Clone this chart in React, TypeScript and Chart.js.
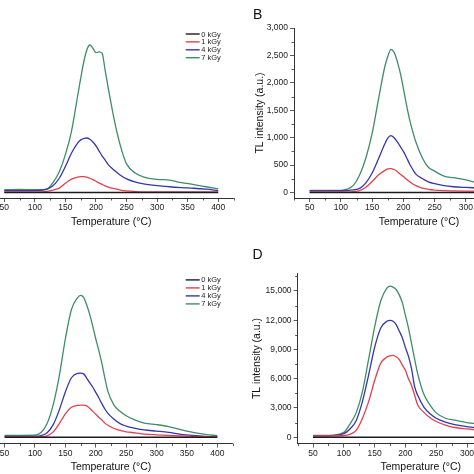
import React, { useEffect, useRef } from "react";
import { Chart, registerables } from "chart.js";

Chart.register(...registerables);

// ---------- data ----------
const TEMPS = [50, 75, 100, 110, 120, 130, 140, 150, 160, 170, 175, 180, 185, 190, 195, 200, 205, 210, 215, 220, 230, 240, 250, 265, 280, 300, 320, 340, 360, 380, 400];

const SERIES_LABELS = ["0 kGy", "1 kGy", "4 kGy", "7 kGy"];
const SERIES_COLORS = ["#1c1c1c", "#e2404c", "#3636b0", "#3f8c69"];

const X_TICKS = [50, 100, 150, 200, 250, 300, 350, 400];
const Y_TICKS_SMALL = [0, 500, 1000, 1500, 2000, 2500, 3000];
const Y_TICKS_LARGE = [0, 3000, 6000, 9000, 12000, 15000];

const ZERO = [0, 0, 0, 0, 0, 0, 0, 0, 0, 0, 0, 0, 0, 0, 0, 0, 0, 0, 0, 0, 0, 0, 0, 0, 0, 0, 0, 0, 0, 0, 0];

const A_RED = [10, 10, 10, 12, 20, 45, 80, 170, 245, 282, 290, 290, 280, 260, 235, 205, 175, 148, 122, 100, 70, 45, 30, 18, 12, 10, 10, 10, 10, 10, 10];
const A_BLUE = [36, 36, 36, 38, 60, 127, 260, 475, 720, 900, 960, 985, 994, 970, 920, 850, 760, 670, 590, 510, 405, 315, 249, 190, 155, 125, 105, 90, 78, 60, 36];
const A_GREEN = [50, 55, 50, 52, 65, 187, 380, 690, 1120, 1760, 2080, 2380, 2600, 2690, 2630, 2550, 2565, 2540, 2230, 1910, 1320, 850, 522, 350, 275, 240, 225, 180, 145, 105, 67];

const B_RED = [10, 10, 10, 12, 18, 35, 95, 200, 320, 400, 430, 436, 420, 385, 335, 290, 240, 195, 155, 125, 80, 58, 45, 35, 30, 26, 24, 20, 18, 15, 12];
const B_BLUE = [30, 30, 32, 38, 50, 75, 175, 355, 610, 880, 990, 1036, 1000, 930, 840, 750, 640, 520, 420, 335, 255, 195, 160, 125, 105, 92, 82, 70, 60, 50, 40];
const B_GREEN = [40, 40, 40, 60, 130, 320, 630, 1080, 1690, 2280, 2480, 2612, 2560, 2400, 2180, 1900, 1600, 1330, 1110, 920, 640, 460, 390, 300, 270, 230, 175, 150, 130, 115, 100];

const C_RED = [30, 30, 35, 60, 150, 550, 1400, 2400, 3080, 3270, 3290, 3290, 3220, 2980, 2650, 2350, 2050, 1780, 1450, 1230, 900, 700, 560, 450, 330, 250, 190, 140, 100, 60, 30];
const C_BLUE = [100, 100, 110, 180, 470, 1290, 2800, 4650, 6100, 6550, 6580, 6500, 6070, 5600, 5150, 4600, 4050, 3450, 2900, 2450, 1850, 1400, 1150, 920, 750, 630, 500, 300, 180, 100, 60];
const C_GREEN = [200, 200, 210, 480, 1400, 3340, 6300, 10100, 13100, 14300, 14540, 14350, 13580, 12600, 11400, 10100, 8900, 7600, 6070, 4700, 3300, 2660, 2200, 1750, 1450, 1300, 1100, 780, 500, 300, 160];

const D_RED = [150, 150, 180, 300, 700, 1900, 3600, 5800, 7600, 8220, 8350, 8400, 8250, 7950, 7400, 6860, 6000, 5300, 4300, 3300, 2550, 2000, 1620, 1250, 1000, 850, 720, 600, 480, 380, 300];
const D_BLUE = [150, 150, 370, 850, 1700, 3600, 6300, 9200, 11200, 11900, 11980, 11900, 11550, 10900, 10200, 9200, 8300, 7000, 5200, 4300, 3100, 2400, 1950, 1550, 1300, 1100, 950, 800, 650, 500, 400];
const D_GREEN = [200, 200, 500, 1350, 2500, 4600, 7900, 11300, 14000, 15300, 15490, 15400, 15150, 14600, 13800, 12500, 11200, 9600, 8000, 6500, 4400, 3300, 2500, 1950, 1750, 1500, 1350, 1150, 950, 800, 650];

const FONT = '"Liberation Sans", Arial, Helvetica, sans-serif';

// ---------- plugins ----------
const minorTicksPlugin = {
  id: "minorTicks",
  afterDraw(chart: any, _args: any, opts: any) {
    if (!opts) return;
    const ctx = chart.ctx;
    const xs = chart.scales.x;
    const ys = chart.scales.y;
    ctx.save();
    ctx.strokeStyle = "#333";
    ctx.lineWidth = 0.8;
    if (opts.xStep) {
      const start = Math.ceil(xs.min / opts.xStep) * opts.xStep;
      for (let v = start; v <= xs.max + 1e-9; v += opts.xStep) {
        if (opts.xMajor.indexOf(v) >= 0) continue;
        const px = Math.round(xs.getPixelForValue(v)) + 0.5;
        ctx.beginPath();
        ctx.moveTo(px, xs.top);
        ctx.lineTo(px, xs.top + 2.5);
        ctx.stroke();
      }
    }
    if (opts.yStep) {
      const start = Math.ceil(ys.min / opts.yStep) * opts.yStep;
      for (let v = start; v <= ys.max + 1e-9; v += opts.yStep) {
        if (opts.yMajor.indexOf(v) >= 0) continue;
        const py = Math.round(ys.getPixelForValue(v)) + 0.5;
        ctx.beginPath();
        ctx.moveTo(ys.right, py);
        ctx.lineTo(ys.right - 2.5, py);
        ctx.stroke();
      }
    }
    ctx.restore();
  },
};

const miniLegendPlugin = {
  id: "miniLegend",
  afterDraw(chart: any, _args: any, opts: any) {
    if (!opts || !opts.show) return;
    const ctx = chart.ctx;
    ctx.save();
    ctx.font = `${opts.fontSize}px ${FONT}`;
    ctx.textBaseline = "middle";
    ctx.textAlign = "left";
    chart.data.datasets.forEach((ds: any, i: number) => {
      const y = opts.y + i * opts.row;
      ctx.strokeStyle = ds.borderColor;
      ctx.lineWidth = 1.4;
      ctx.beginPath();
      ctx.moveTo(opts.x, y);
      ctx.lineTo(opts.x + opts.len, y);
      ctx.stroke();
      ctx.fillStyle = "#222";
      ctx.fillText(ds.label, opts.x + opts.len + 1.5, y + 0.5);
    });
    ctx.restore();
  },
};

type Box = { l: number; t: number; r: number; b: number };
type PanelCfg = {
  canvas: Box;
  area: Box;
  yMin: number;
  yMax: number;
  yTicks: number[];
  yMinor: number;
  series: number[][];
  legend?: { x: number; y: number; row: number; len: number };
};

const PANELS: PanelCfg[] = [
  {
    canvas: { l: -51, t: 0, r: 245, b: 228 },
    area: { l: -11, t: 28, r: 233.5, b: 198 },
    yMin: -100, yMax: 3000, yTicks: Y_TICKS_SMALL, yMinor: 250,
    series: [ZERO, A_RED, A_BLUE, A_GREEN],
    legend: { x: 185.7, y: 34, row: 7.9, len: 14 },
  },
  {
    canvas: { l: 254, t: 0, r: 556, b: 228 },
    area: { l: 294, t: 28, r: 544, b: 198 },
    yMin: -100, yMax: 3000, yTicks: Y_TICKS_SMALL, yMinor: 250,
    series: [ZERO, B_RED, B_BLUE, B_GREEN],
  },
  {
    canvas: { l: -51, t: 237, r: 244, b: 473 },
    area: { l: -10.6, t: 273.4, r: 232.5, b: 443.6 },
    yMin: -650, yMax: 16800, yTicks: Y_TICKS_LARGE, yMinor: 1500,
    series: [ZERO, C_RED, C_BLUE, C_GREEN],
    legend: { x: 185.7, y: 279.9, row: 8, len: 14 },
  },
  {
    canvas: { l: 251, t: 237, r: 556, b: 473 },
    area: { l: 297.6, t: 273.4, r: 544, b: 443.6 },
    yMin: -650, yMax: 16800, yTicks: Y_TICKS_LARGE, yMinor: 1500,
    series: [ZERO, D_RED, D_BLUE, D_GREEN],
  },
];

function Panel({ cfg }: { cfg: PanelCfg }) {
  const ref = useRef<HTMLCanvasElement>(null);
  const w = cfg.canvas.r - cfg.canvas.l;
  const h = cfg.canvas.b - cfg.canvas.t;

  useEffect(() => {
    const yAxisW = cfg.area.l - cfg.canvas.l;
    const xAxisH = cfg.canvas.b - cfg.area.b;
    const padTop = cfg.area.t - cfg.canvas.t;
    const padRight = cfg.canvas.r - cfg.area.r;
    const legendOpts = cfg.legend
      ? { show: true, x: cfg.legend.x - cfg.canvas.l, y: cfg.legend.y - cfg.canvas.t, row: cfg.legend.row, len: cfg.legend.len, fontSize: 7.5 }
      : { show: false };

    const chart = new Chart(ref.current as HTMLCanvasElement, {
      type: "line",
      data: {
        datasets: cfg.series.map((s, i) => ({
          label: SERIES_LABELS[i],
          data: TEMPS.map((t, j) => ({ x: t, y: s[j] })),
          borderColor: SERIES_COLORS[i],
          backgroundColor: SERIES_COLORS[i],
          borderWidth: 1.3,
          pointRadius: 0,
          cubicInterpolationMode: "monotone",
          fill: false,
        })),
      },
      options: {
        animation: false,
        responsive: false,
        devicePixelRatio: 1,
        events: [],
        layout: { padding: { top: padTop, right: padRight, left: 0, bottom: 0 } },
        plugins: {
          legend: { display: false },
          tooltip: { enabled: false },
          minorTicks: { xStep: 25, xMajor: X_TICKS, yStep: cfg.yMinor, yMajor: cfg.yTicks },
          miniLegend: legendOpts,
        } as any,
        scales: {
          x: {
            type: "linear",
            min: 25,
            max: 425,
            afterBuildTicks: (s: any) => {
              s.ticks = X_TICKS.map((v) => ({ value: v }));
            },
            afterFit: (s: any) => {
              s.height = xAxisH;
            },
            ticks: {
              autoSkip: false,
              maxRotation: 0,
              padding: 1,
              color: "#1a1a1a",
              font: { family: FONT, size: 8.5 },
            },
            grid: { display: true, drawOnChartArea: false, drawTicks: true, tickLength: 4, color: "#333", lineWidth: 0.8 },
            border: { display: true, color: "#333", width: 1 },
            title: { display: true, text: "Temperature (°C)", color: "#111", padding: 0, font: { family: FONT, size: 10.5 } },
          },
          y: {
            type: "linear",
            min: cfg.yMin,
            max: cfg.yMax,
            afterBuildTicks: (s: any) => {
              s.ticks = cfg.yTicks.map((v) => ({ value: v }));
            },
            afterFit: (s: any) => {
              s.width = yAxisW;
            },
            ticks: {
              autoSkip: false,
              padding: 2,
              color: "#1a1a1a",
              font: { family: FONT, size: 8.5 },
              callback: (v: any) => Number(v).toLocaleString("en-US"),
            },
            grid: { display: true, drawOnChartArea: false, drawTicks: true, tickLength: 4, color: "#333", lineWidth: 0.8 },
            border: { display: true, color: "#333", width: 1 },
            title: { display: true, text: "TL intensity (a.u.)", color: "#111", padding: 0, font: { family: FONT, size: 10.5 } },
          },
        },
      } as any,
      plugins: [minorTicksPlugin, miniLegendPlugin] as any,
    });
    return () => chart.destroy();
  }, [cfg]);

  return (
    <canvas
      ref={ref}
      width={w}
      height={h}
      style={{ position: "absolute", left: cfg.canvas.l, top: cfg.canvas.t, width: w, height: h }}
    />
  );
}

const letterStyle: React.CSSProperties = {
  position: "absolute",
  fontFamily: FONT,
  fontSize: 14,
  lineHeight: 1,
  color: "#111",
};

export default function App() {
  return (
    <div
      style={{
        position: "fixed",
        left: 0,
        top: 0,
        width: 474,
        height: 474,
        overflow: "hidden",
        background: "#fff",
      }}
    >
      {PANELS.map((p, i) => (
        <Panel key={i} cfg={p} />
      ))}
      <div style={{ ...letterStyle, left: 253, top: 7.4 }}>B</div>
      <div style={{ ...letterStyle, left: 252.5, top: 246.8 }}>D</div>
    </div>
  );
}
